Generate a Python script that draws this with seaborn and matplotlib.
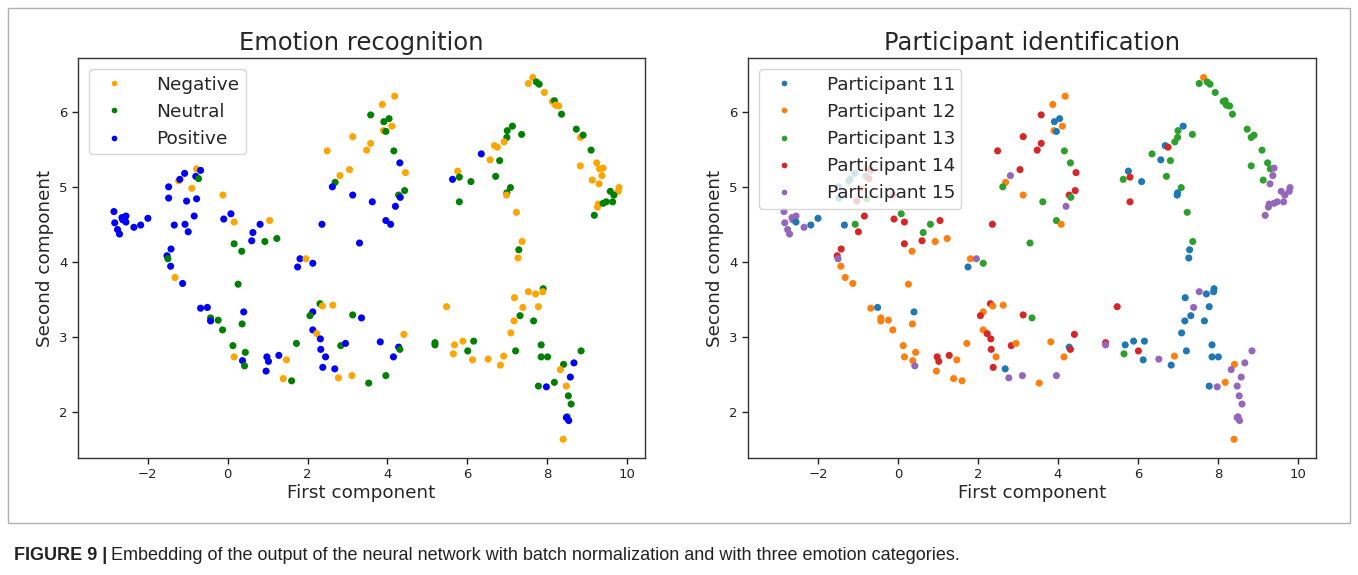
import matplotlib
matplotlib.use("Agg")
import matplotlib.pyplot as plt
import seaborn as sns
import pandas as pd
from matplotlib.patches import Rectangle

# ---- data ----
x_vals = [
    -0.78, -0.68, -1.08, -1.23, -1.20, -0.80, -0.73, -1.48, -0.90, -1.48,
    -1.03, -0.78, -0.12, -0.84, -1.34, -1.07, -0.99, -2.85, -2.83, -2.65,
    -2.55, -2.63, -2.55, -2.76, -2.71, -2.35, -2.18, -2.00, -0.10, 0.08,
    0.16, 0.81, 1.05, 0.63, 0.60, 0.16, 0.35, 0.93, 1.23, -1.42,
    -1.52, -1.50, -1.43, -1.32, -1.13, 0.26, -0.68, -0.51, -0.43, -0.43,
    -0.24, 0.40, 0.36, -0.13, 0.13, 0.16, 0.44, 0.37, 0.42, 0.98,
    1.02, 0.96, 1.81, 1.96, 2.13, 1.75, 2.31, 2.37, 2.63, 2.13,
    2.06, 3.13, 3.35, 5.48, 2.13, 2.23, 2.32, 1.72, 2.83, 2.95,
    3.82, 4.41, 4.28, 4.31, 5.19, 5.19, 5.68, 5.65, 2.33, 2.45,
    4.15, 1.28, 1.47, 2.38, 2.68, 2.77, 1.39, 1.60, 3.11, 3.53,
    3.96, 4.18, 3.87, 3.58, 3.91, 4.04, 3.90, 3.96, 4.11, 3.13,
    3.58, 3.48, 2.49, 4.16, 4.31, 3.05, 4.45, 2.81, 2.69, 2.62,
    3.13, 4.43, 4.28, 4.32, 3.62, 4.20, 2.36, 3.96, 4.08, 3.30,
    5.63, 5.76, 5.80, 5.80, 7.64, 7.53, 7.73, 7.80, 7.93, 8.13,
    8.18, 8.21, 8.29, 8.36, 8.73, 8.83, 8.90, 9.10, 8.83, 9.24,
    9.31, 9.40, 9.37, 9.13, 9.30, 9.80, 9.78, 9.58, 9.67, 9.28,
    9.26, 9.40, 9.48, 9.64, 9.18, 7.13, 7.00, 6.99, 7.36, 6.92,
    6.68, 6.75, 6.35, 6.57, 6.81, 6.71, 6.09, 7.08, 6.99, 6.98,
    7.23, 7.37, 7.29, 7.27, 7.90, 7.89, 7.53, 7.71, 7.18, 7.39,
    7.78, 7.32, 7.17, 7.66, 7.09, 5.89, 6.16, 6.01, 6.13, 6.52,
    6.91, 6.83, 7.21, 7.85, 7.85, 8.01, 8.85, 8.67, 8.41, 8.33,
    8.58, 8.18, 7.78, 7.98, 8.48, 8.53, 8.60, 8.50, 8.48, 8.54,
    8.40,
]
y_vals = [
    5.24, 5.22, 5.18, 5.08, 5.10, 5.14, 5.11, 5.00, 4.98, 4.85,
    4.81, 4.84, 4.89, 4.61, 4.49, 4.50, 4.40, 4.67, 4.52, 4.59,
    4.61, 4.56, 4.53, 4.43, 4.37, 4.46, 4.49, 4.58, 4.57, 4.64,
    4.53, 4.50, 4.55, 4.39, 4.28, 4.24, 4.14, 4.27, 4.31, 4.17,
    4.08, 4.04, 3.94, 3.79, 3.71, 3.70, 3.38, 3.39, 3.25, 3.21,
    3.22, 3.33, 3.17, 3.09, 2.88, 2.73, 2.79, 2.68, 2.61, 2.73,
    2.67, 2.54, 4.04, 4.04, 3.98, 3.93, 3.44, 3.41, 3.42, 3.33,
    3.28, 3.29, 3.25, 3.40, 3.09, 3.04, 2.97, 2.91, 2.88, 2.91,
    2.93, 3.03, 2.86, 2.83, 2.92, 2.89, 2.89, 2.77, 2.83, 2.73,
    2.73, 2.75, 2.69, 2.59, 2.57, 2.45, 2.44, 2.41, 2.48, 2.38,
    2.48, 6.21, 6.10, 5.96, 5.87, 5.91, 5.75, 5.74, 5.81, 5.67,
    5.58, 5.49, 5.48, 5.48, 5.32, 5.23, 5.19, 5.15, 5.06, 5.00,
    4.89, 4.95, 4.89, 4.86, 4.80, 4.74, 4.50, 4.55, 4.50, 4.25,
    5.10, 5.21, 5.13, 4.80, 6.46, 6.38, 6.40, 6.37, 6.26, 6.14,
    6.15, 6.09, 6.08, 5.97, 5.77, 5.66, 5.69, 5.49, 5.28, 5.32,
    5.24, 5.25, 5.15, 5.09, 5.04, 4.99, 4.94, 4.94, 4.89, 4.77,
    4.73, 4.78, 4.80, 4.80, 4.62, 5.81, 5.75, 5.66, 5.70, 5.60,
    5.55, 5.53, 5.44, 5.36, 5.35, 5.14, 5.07, 4.99, 4.92, 4.89,
    4.66, 4.27, 4.16, 4.05, 3.64, 3.60, 3.60, 3.57, 3.52, 3.39,
    3.40, 3.28, 3.21, 3.21, 3.05, 2.94, 2.94, 2.81, 2.69, 2.70,
    2.74, 2.62, 2.81, 2.89, 2.73, 2.73, 2.81, 2.65, 2.63, 2.56,
    2.46, 2.39, 2.34, 2.33, 2.34, 2.21, 2.10, 1.93, 1.92, 1.88,
    1.63,
]
emotion_codes = (
    "NPPNPPUPNP" "PPNPPPPPPP" "PPPPPPPPPP" "NPNPPUUUUP"
    "PUPNPUPPUP" "UPUUUNUPUP" "PPPNPPUNNP" "UUPNPNPUUP"
    "PNPUUUNNPP" "PPNPPNNUNU" "UNNUUUNUNN" "NNNUPNNNUP"
    "PUUPPPPPPP" "PNUUNNUUNN" "UNNUUNUUNN" "NNNNNNNUUN"
    "NUUUUUUUUN" "NNPNUUUUUN" "NNUNUNNNNN" "NUNUNNUUNN"
    "NNUUUUUPUN" "PUUPNUUUPP" "N"
)
participant_vals = [
    12, 14, 11, 13, 11, 11, 14, 11, 12, 11,
    14, 13, 14, 14, 11, 13, 14, 15, 15, 15,
    15, 15, 11, 15, 15, 15, 11, 11, 14, 13,
    14, 13, 14, 13, 14, 14, 12, 12, 12, 14,
    14, 15, 12, 12, 12, 12, 12, 11, 12, 12,
    12, 11, 12, 12, 12, 12, 12, 12, 15, 14,
    14, 12, 12, 15, 13, 11, 14, 12, 12, 12,
    14, 14, 13, 14, 12, 14, 14, 12, 14, 12,
    12, 14, 11, 14, 14, 15, 11, 13, 14, 12,
    12, 14, 12, 14, 11, 15, 12, 12, 15, 12,
    15, 12, 12, 14, 11, 11, 12, 11, 12, 14,
    14, 14, 14, 13, 13, 14, 14, 15, 12, 13,
    12, 14, 14, 13, 13, 15, 14, 13, 12, 13,
    13, 11, 14, 14, 12, 13, 13, 13, 13, 13,
    13, 13, 13, 13, 13, 13, 13, 13, 13, 13,
    13, 15, 15, 13, 15, 15, 15, 15, 15, 15,
    15, 15, 15, 15, 15, 11, 13, 13, 13, 13,
    11, 14, 13, 11, 13, 13, 11, 13, 11, 11,
    13, 13, 11, 11, 11, 11, 15, 11, 11, 15,
    11, 11, 11, 11, 11, 11, 11, 14, 11, 15,
    12, 11, 11, 11, 11, 11, 15, 15, 12, 15,
    15, 12, 11, 15, 15, 15, 15, 15, 15, 15,
    12,
]
emotion_names = {"N": "Negative", "U": "Neutral", "P": "Positive"}
emotion_order = ["Negative", "Neutral", "Positive"]
participant_order = ["Participant 11", "Participant 12", "Participant 13",
                     "Participant 14", "Participant 15"]

df = pd.DataFrame({
    "x": x_vals,
    "y": y_vals,
    "emotion": [emotion_names[c] for c in emotion_codes],
    "participant": [f"Participant {p}" for p in participant_vals],
})

sns.set_style("ticks")
plt.rcParams["font.family"] = ["DejaVu Sans"]

fig = plt.figure(figsize=(13.58, 5.75), dpi=100)
W, H = 1358, 575

def ax_rect(l, t, r, b):
    return [l / W, 1 - b / H, (r - l) / W, (b - t) / H]

ax1 = fig.add_axes(ax_rect(78, 58, 645, 458))
ax2 = fig.add_axes(ax_rect(748, 58, 1316, 458))

emo_pal = {"Negative": "orange", "Neutral": "green", "Positive": "blue"}
tab = sns.color_palette("tab10")
part_pal = {name: tab[i] for i, name in enumerate(participant_order)}

sns.scatterplot(data=df, x="x", y="y", hue="emotion", hue_order=emotion_order,
                palette=emo_pal, s=26, linewidth=0, ax=ax1)
sns.scatterplot(data=df, x="x", y="y", hue="participant", hue_order=participant_order,
                palette=part_pal, s=26, linewidth=0, ax=ax2)

for ax, title in [(ax1, "Emotion recognition"), (ax2, "Participant identification")]:
    ax.set_xlim(-3.75, 10.45)
    ax.set_ylim(1.38, 6.72)
    ax.set_xticks([-2, 0, 2, 4, 6, 8, 10])
    ax.set_yticks([2, 3, 4, 5, 6])
    ax.tick_params(labelsize=9.5, length=4, width=1, colors="#222222")
    ax.set_title(title, fontsize=17.5, pad=6)
    ax.set_xlabel("First component", fontsize=13.2, labelpad=2)
    ax.set_ylabel("Second component", fontsize=13.2, labelpad=4)
    for sp in ax.spines.values():
        sp.set_visible(True)
        sp.set_color("#333333")
        sp.set_linewidth(1.0)
    handles, labels = ax.get_legend_handles_labels()
    ax.legend(handles, labels, loc="upper left", fontsize=13.3, title=None,
              markerscale=0.8, frameon=True, borderaxespad=0.6,
              handletextpad=1.3, labelspacing=0.5, borderpad=0.35)

# outer frame and caption
fig.patches.append(Rectangle((8 / W, 1 - 523 / H), (1350 - 8) / W, (523 - 8) / H,
                             transform=fig.transFigure, fill=False,
                             edgecolor="#b0b0b0", linewidth=1.0))
bold = fig.text(14 / W, 1 - 556 / H, "FIGURE 9 |", fontsize=13, fontweight="bold",
                family="Liberation Sans", va="center", ha="left", color="#222222")
fig.canvas.draw()
bb = bold.get_window_extent(fig.canvas.get_renderer())
fig.text(bb.x1 / W + 4 / W, 1 - 556 / H,
         "Embedding of the output of the neural network with batch normalization and with three emotion categories.",
         fontsize=13, family="Liberation Sans", va="center", ha="left", color="#222222")

fig.savefig("out.png", dpi=100)
